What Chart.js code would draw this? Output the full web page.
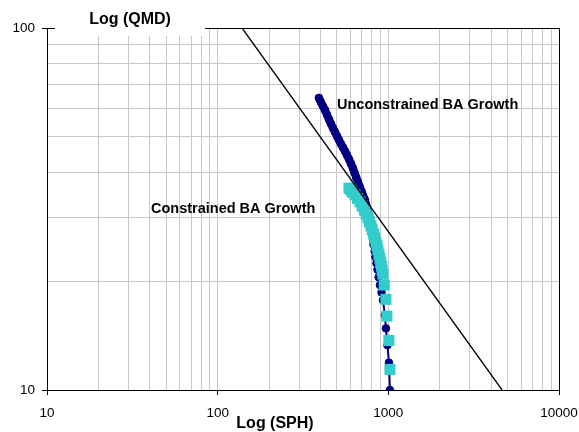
<!DOCTYPE html>
<html>
<head>
<meta charset="utf-8">
<script src="https://cdn.jsdelivr.net/npm/chart.js@4/dist/chart.umd.min.js"></script>
<style>
  html, body { margin: 0; padding: 0; background: #fff; }
  canvas { display: block; }
</style>
</head>
<body>
<canvas id="qmdChart" width="579" height="432"></canvas>
<script>
// stems per ha vs quadratic mean diameter
const sphUnconstrained = [1022, 1008, 988, 968, 955, 930, 912, 893, 878, 864, 852, 840, 832, 824, 817, 809, 801, 791, 781, 770,
    756, 742, 729, 712, 696, 680, 664, 649, 634, 620, 604, 588, 572, 557, 542, 527, 513, 500, 487, 474, 461, 449, 437, 425, 413, 402, 392];
const qmdUnconstrained = [10.0, 11.9, 13.3, 14.8, 16.1, 17.7, 18.6, 19.5, 20.5, 21.5, 22.4, 23.3, 24.2, 25.2, 26.0, 26.8, 27.7, 28.6, 29.5, 30.4,
    31.4, 32.4, 33.5, 34.4, 35.4, 36.4, 37.5, 38.6, 39.8, 41.0, 42.2, 43.4, 44.6, 45.7, 46.8, 47.9, 49.1, 50.3, 51.6, 52.9, 54.4, 55.9, 57.6, 59.4, 60.9, 62.5, 64.1];

const sphConstrained = [1022, 1008, 981, 968, 946, 930, 921, 911, 902, 893, 881, 869, 858, 846, 832, 818, 805,
    791, 776, 760, 742, 724, 703, 682, 660, 637, 617, 603, 588];
const qmdConstrained = [11.4, 13.7, 16.0, 17.8, 19.5, 20.9, 21.4, 22.0, 22.5, 23.1, 23.7, 24.4, 25.0, 25.6, 26.3, 27.0, 27.7,
    28.4, 29.1, 29.9, 30.6, 31.4, 32.2, 33.1, 33.8, 34.6, 35.2, 35.7, 36.1];

// self-thinning limit line
const sphLimit = [139, 4640];
const qmdLimit = [100, 10];

const xTickLabels = ['10', '100', '1000', '10000'];
const yTickLabels = ['10', '100'];

const FONT = "'Liberation Sans', Arial, sans-serif";

const toPoints = (xs, ys) => xs.map((x, i) => ({ x: x, y: ys[i] }));
const isMajor = (v) => Math.abs(Math.log10(v) - Math.round(Math.log10(v))) < 1e-6;

// 1..9 x 10^n grid, nothing finer
function decadeTicks(scale) {
    const out = [];
    const e0 = Math.floor(Math.log10(scale.min) + 1e-9);
    const e1 = Math.ceil(Math.log10(scale.max) - 1e-9);
    for (let e = e0; e <= e1; e++) {
        for (let d = 1; d <= 9; d++) {
            const v = Math.round(d * Math.pow(10, e));
            if (v >= scale.min - 1e-9 && v <= scale.max + 1e-9) out.push({ value: v, major: d === 1 });
        }
    }
    scale.ticks = out;
}

const overlay = {
    id: 'overlay',
    afterDraw(chart) {
        const ctx = chart.ctx;
        const a = chart.chartArea;
        ctx.save();
        // frame top and right
        ctx.strokeStyle = '#000';
        ctx.lineWidth = 1;
        ctx.beginPath();
        ctx.moveTo(a.left, a.top + 0.5);
        ctx.lineTo(a.right + 0.5, a.top + 0.5);
        ctx.lineTo(a.right + 0.5, a.bottom);
        ctx.stroke();

        // axis title box over the frame, like the spreadsheet one
        ctx.fillStyle = '#fff';
        ctx.fillRect(55, 0, 150, 36);

        ctx.fillStyle = '#000';
        ctx.textBaseline = 'middle';
        ctx.textAlign = 'center';
        ctx.font = 'bold 16px ' + FONT;
        ctx.fillText('Log (QMD)', 130, 20);
        ctx.fillText('Log (SPH)', 275, 424);

        ctx.textAlign = 'left';
        ctx.font = 'bold 14.5px ' + FONT;
        ctx.fillText('Unconstrained BA Growth', 337, 105);
        ctx.fillText('Constrained BA Growth', 151, 209);
        ctx.restore();
    }
};

const axisBase = (labels) => ({
    type: 'logarithmic',
    afterBuildTicks: decadeTicks,
    grid: {
        color: '#c8c8c8',
        lineWidth: 1,
        tickLength: 5,
        tickColor: (c) => (c.tick && isMajor(c.tick.value)) ? '#000' : 'rgba(0,0,0,0)'
    },
    border: { display: true, color: '#000', width: 1 },
    ticks: {
        autoSkip: false,
        maxRotation: 0,
        color: '#000',
        font: { family: FONT, size: 13.5 },
        callback: (v) => {
            const s = String(Math.round(v));
            return labels.includes(s) && isMajor(v) ? s : '';
        }
    }
});

const xAxis = axisBase(xTickLabels);
xAxis.min = 10;
xAxis.max = 10000;
xAxis.position = 'bottom';
xAxis.ticks.padding = 10;
xAxis.afterFit = (s) => { s.height = 42; s.paddingLeft = 0; s.paddingRight = 0; };

const yAxis = axisBase(yTickLabels);
yAxis.min = 10;
yAxis.max = 100;
yAxis.position = 'left';
yAxis.ticks.padding = 7;
yAxis.afterFit = (s) => { s.width = 47; s.paddingTop = 0; s.paddingBottom = 0; };

// where markers sit closer than their own size the series reads as one thick stroke
const segWidth = (c) => Math.hypot(c.p1.x - c.p0.x, c.p1.y - c.p0.y) < 6 ? 8 : 2;

new Chart(document.getElementById('qmdChart'), {
    type: 'scatter',
    data: {
        datasets: [
            {
                label: 'Unconstrained BA Growth',
                data: toPoints(sphUnconstrained, qmdUnconstrained),
                showLine: true,
                borderColor: '#000080',
                borderWidth: 2,
                borderCapStyle: 'round',
                borderJoinStyle: 'round',
                segment: { borderWidth: segWidth },
                backgroundColor: '#000080',
                pointRadius: 3.8,
                pointBorderWidth: 1,
                pointBorderColor: '#000080',
                pointBackgroundColor: '#000080',
                order: 3
            },
            {
                label: 'Constrained BA Growth',
                data: toPoints(sphConstrained, qmdConstrained),
                showLine: false,
                pointStyle: 'rect',
                pointRadius: 7.8,
                pointBorderWidth: 0,
                pointBackgroundColor: '#33cccc',
                backgroundColor: '#33cccc',
                borderColor: '#33cccc',
                order: 2
            },
            {
                label: 'Limit',
                data: toPoints(sphLimit, qmdLimit),
                showLine: true,
                borderColor: '#000',
                borderWidth: 1.3,
                pointRadius: 0,
                order: 1
            }
        ]
    },
    options: {
        responsive: false,
        animation: false,
        layout: { padding: { top: 28, right: 20, left: 0, bottom: 0 } },
        plugins: {
            legend: { display: false },
            tooltip: { enabled: false }
        },
        scales: { x: xAxis, y: yAxis }
    },
    plugins: [overlay]
});
</script>
</body>
</html>
